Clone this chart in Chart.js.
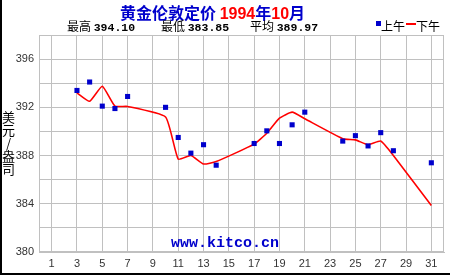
<!DOCTYPE html>
<html>
<head>
<meta charset="utf-8">
<script src="https://cdn.jsdelivr.net/npm/chart.js@4/dist/chart.umd.min.js"></script>
<style>
  body { margin: 0; background: #fff; }
  #wrap { position: relative; width: 450px; height: 275px; overflow: hidden; }
  #frame { position: absolute; left: 0; top: 0; width: 450px; height: 275px; box-sizing: border-box;
           border-left: 2px solid #000; border-bottom: 2px solid #000; }
  canvas { position: absolute; left: 0; top: 0; }
  .t { position: absolute; white-space: nowrap; }
  #title { top: 0; left: 120px; height: 19px; line-height: 19px; font: bold 16px "Noto Sans CJK SC", sans-serif; color: #0000cc; }
  #title .r { color: #ff0000; font-family: "Liberation Sans", sans-serif; }
  .sub { top: 18px; line-height: 15px; font-size: 12px; font-family: "Noto Sans CJK SC", sans-serif; color: #000; }
  .num { font: bold 11.5px "Liberation Mono", monospace; }
  #ytitle { left: 2px; top: 110px; width: 13px; font: 13px/13px "Noto Sans CJK SC", sans-serif; text-align: center; color: #000; }
  #wm { left: 171px; top: 236px; font: bold 15px/16px "Liberation Mono", monospace; color: #0000cc; }
</style>
</head>
<body>
<div id="wrap">
  <canvas id="myChart" width="450" height="275"></canvas>
  <div id="frame"></div>
  <div class="t" id="title">黄金伦敦定价 <span class="r">1994</span>年<span class="r">10</span>月</div>
  <div class="t sub" style="left:67px">最高 <span class="num">394.10</span></div>
  <div class="t sub" style="left:161px">最低 <span class="num">383.85</span></div>
  <div class="t sub" style="left:250px">平均 <span class="num">389.97</span></div>
  <div class="t" style="left:376px;top:21px;width:5px;height:5px;background:#0000cc"></div>
  <div class="t sub" style="left:381px">上午</div>
  <div class="t" style="left:406px;top:23px;width:10px;height:2px;background:#ff0000"></div>
  <div class="t sub" style="left:416px">下午</div>
  <div class="t" id="ytitle">美<br>元<br>/<br>盎<br>司</div>
  <div class="t" id="wm">www.kitco.cn</div>
</div>
<script>
// Dias de negociação de outubro de 1994
const dias = [3, 4, 5, 6, 7, 10, 11, 12, 13, 14, 17, 18, 19, 20, 21, 24, 25, 26, 27, 28, 31];

// Preço da manhã (上午) - quadrados azuis
const manha = [393.40, 394.10, 392.10, 391.90, 392.90, 392.00, 389.50, 388.20, 388.90, 387.20,
               389.00, 390.05, 389.00, 390.55, 391.60, 389.20, 389.65, 388.80, 389.90, 388.40, 387.40];

// Preço da tarde (下午) - linha vermelha
const tarde = [393.20, 392.50, 393.75, 392.10, 392.07, 391.20, 387.70, 388.00, 387.30, 387.50,
               388.95, 389.85, 391.10, 391.60, 391.05, 389.40, 389.30, 388.90, 389.20, 388.00, 383.85];

// Marcas do eixo X
const xTicks = [1, 3, 5, 7, 9, 11, 13, 15, 17, 19, 21, 23, 25, 27, 29, 31];

// Moldura cinzenta à volta da área do gráfico
const moldura = {
    id: 'moldura',
    afterDraw(chart) {
        const a = chart.chartArea;
        const ctx = chart.ctx;
        ctx.save();
        ctx.strokeStyle = '#c0c0c0';
        ctx.lineWidth = 1;
        ctx.strokeRect(a.left + 0.5, a.top + 0.5, a.right - a.left - 1, a.bottom - a.top - 1);
        ctx.restore();
    }
};

let ctx = document.getElementById('myChart');

new Chart(ctx, {
    type: 'scatter',
    data: {
        datasets: [{
                label: '上午',
                data: dias.map((d, i) => ({x: d, y: manha[i]})),
                pointStyle: 'rect',
                pointRadius: 3.6,
                pointBorderWidth: 0,
                backgroundColor: '#0000cc',
                borderColor: '#0000cc'
            },
            {
                label: '下午',
                data: dias.map((d, i) => ({x: d, y: tarde[i]})),
                showLine: true,
                pointRadius: 0,
                borderWidth: 1.6,
                borderColor: '#ff0000',
                backgroundColor: '#ff0000',
                tension: 0.15,
                order: 1
            }]
    },
    options: {
        responsive: false,
        animation: false,
        layout: {
            padding: {left: 0, top: 35, right: 6, bottom: 0}
        },
        plugins: {
            legend: { display: false },
            tooltip: { enabled: false }
        },
        scales: {
            x: {
                type: 'linear',
                min: 0,
                max: 32,
                afterBuildTicks: s => { s.ticks = xTicks.map(v => ({value: v})); },
                afterFit: s => { s.height = 23; },
                grid: { color: '#c0c0c0', drawTicks: false },
                border: { color: '#c0c0c0' },
                ticks: {
                    padding: 5,
                    color: '#333',
                    font: { family: 'Liberation Sans', size: 11 },
                    maxRotation: 0,
                    autoSkip: false
                }
            },
            y: {
                min: 380,
                max: 398,
                afterFit: s => { s.width = 39; },
                grid: { color: '#c0c0c0', drawTicks: false },
                border: { color: '#c0c0c0' },
                ticks: {
                    stepSize: 2,
                    padding: 5,
                    color: '#333',
                    font: { family: 'Liberation Sans', size: 11 },
                    callback: v => (v % 4 === 0 ? v : '')
                }
            }
        }
    },
    plugins: [moldura]
});
</script>
</body>
</html>
